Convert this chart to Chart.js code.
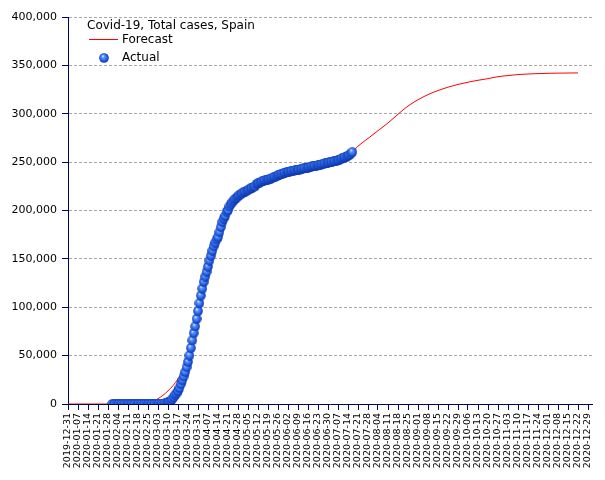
<!DOCTYPE html>
<html>
<head>
<meta charset="utf-8">
<script src="https://cdn.jsdelivr.net/npm/chart.js@4.4.1/dist/chart.umd.min.js"></script>
<style>
  html, body { margin: 0; padding: 0; background: #fff; }
  #chart { display: block; }
</style>
</head>
<body>
<canvas id="chart" width="605" height="480"></canvas>
<script>
// ── Data ──
const chartTitle = 'Covid-19, Total cases, Spain';
const seriesNames = ['Forecast', 'Actual'];

// x axis: days counted from 2019-12-31, one tick per week
const tickLabels = [
  '2019-12-31', '2020-01-07', '2020-01-14', '2020-01-21', '2020-01-28',
  '2020-02-04', '2020-02-11', '2020-02-18', '2020-02-25', '2020-03-03',
  '2020-03-10', '2020-03-17', '2020-03-24', '2020-03-31', '2020-04-07',
  '2020-04-14', '2020-04-21', '2020-04-28', '2020-05-05', '2020-05-12',
  '2020-05-19', '2020-05-26', '2020-06-02', '2020-06-09', '2020-06-16',
  '2020-06-23', '2020-06-30', '2020-07-07', '2020-07-14', '2020-07-21',
  '2020-07-28', '2020-08-04', '2020-08-11', '2020-08-18', '2020-08-25',
  '2020-09-01', '2020-09-08', '2020-09-15', '2020-09-22', '2020-09-29',
  '2020-10-06', '2020-10-13', '2020-10-20', '2020-10-27', '2020-11-03',
  '2020-11-10', '2020-11-17', '2020-11-24', '2020-12-01', '2020-12-08',
  '2020-12-15', '2020-12-22', '2020-12-29'
];
const yTicks = [0, 50000, 100000, 150000, 200000, 250000, 300000, 350000, 400000];

// Forecast (day offset, cases)
const forecastDays = [
  0, 7, 14, 21, 28, 35, 42, 49, 56, 63, 70, 77, 84, 91, 98, 105, 112, 119, 126,
  133, 140, 147, 154, 161, 168, 175, 182, 189, 196, 203, 210, 217, 224, 231, 238,
  245, 252, 259, 266, 273, 280, 287, 294, 301, 308, 315, 322, 329, 336, 343, 350, 357
];
const forecastCases = [
  0, 0, 0, 0, 0, 0, 0, 200, 1200, 5500, 13500, 26000, 46000, 96000, 142000, 176000, 202000, 217500, 224500,
  229000, 231500, 233800, 236500, 239000, 241500, 244000, 247500, 251500, 256500, 266500, 274500, 282500, 290500, 299500, 308000,
  314500, 319800, 324000, 327500, 330300, 332600, 334600, 336300, 338300, 339500, 340500, 341100, 341500, 341800, 342000, 342100, 342200
];

// Actual daily totals, starting 2020-01-31
const actualStart = '2020-01-31';
const actualJanFeb = [
  1, 1, 1, 1, 1, 1, 1, 1, 1, 2, 2, 2, 2, 2, 2, 2, 2, 2, 2, 2, 2, 2, 2, 2, 2,
  6, 13, 15, 32, 45
];
const actualMar = [
  84, 120, 165, 222, 259, 400, 500, 673, 1073, 1695, 2277, 3146, 5232, 7000, 9500,
  11000, 13500, 16500, 20500, 24500, 28500, 33000, 38000, 43500, 50000, 57786, 65719,
  73235, 80110, 87956, 95923
];
const actualApr = [
  104118, 112065, 119199, 126168, 131646, 136675, 141942, 148220, 153222, 158273,
  163027, 166831, 170099, 172541, 177644, 182816, 188068, 191726, 194416, 198674,
  200210, 204178, 206500, 208600, 210400, 211900, 213300, 214600, 215800, 216900
];
const actualMay = [
  217900, 218800, 219600, 220300, 221100, 221900, 222800, 223600, 224400, 225100,
  227400, 228000, 228700, 229500, 230200, 230700, 231300, 231600, 232000, 232600,
  233000, 233800, 234300, 234800, 235400, 236300, 236900, 237400, 237900, 238600, 239100
];
const actualJun = [
  239600, 239900, 240300, 240700, 241000, 241300, 241550, 241700, 242000, 242300,
  242700, 243200, 243500, 243600, 243900, 244300, 244700, 245300, 245600, 245900,
  246300, 246500, 246800, 247100, 247500, 247900, 248300, 248600, 248800, 249300
];
const actualJul = [
  249700, 250100, 250500, 250800, 251000, 251400, 251800, 252500, 253100, 253900,
  254600, 255200, 255800, 256600, 257500, 258900, 260300
];

/* ── helpers ── */
const DAY0 = Date.UTC(2019, 11, 31);
function dayOffset(iso) {
  const [y, m, d] = iso.split('-').map(Number);
  return Math.round((Date.UTC(y, m - 1, d) - DAY0) / 86400000);
}

const actualCases = [].concat(actualJanFeb, actualMar, actualApr, actualMay, actualJun, actualJul);
const firstDay = dayOffset(actualStart);
const actualPoints = actualCases.map((v, i) => ({ x: firstDay + i, y: v }));
const forecastPoints = forecastDays.map((d, i) => ({ x: d, y: forecastCases[i] }));
const tickDays = tickLabels.map(dayOffset);

const AXIS = '#000066';
const FONT = 'DejaVu Sans';

// shaded blue ball used for the actual points
function makeBall(size) {
  const c = document.createElement('canvas');
  c.width = c.height = size;
  const g = c.getContext('2d');
  const r = size / 2;
  const grad = g.createRadialGradient(r * 0.75, r * 0.6, 0.3, r, r, r);
  grad.addColorStop(0, '#e4eeff');
  grad.addColorStop(0.25, '#5d95ff');
  grad.addColorStop(0.65, '#2463ea');
  grad.addColorStop(1, '#0b2a94');
  g.fillStyle = grad;
  g.beginPath();
  g.arc(r, r, r - 0.2, 0, Math.PI * 2);
  g.fill();
  return c;
}
const ball = makeBall(10);

/* ── legend drawn inside the plot ── */
const innerLegend = {
  id: 'innerLegend',
  afterDraw(chart) {
    const ctx = chart.ctx;
    ctx.save();
    ctx.fillStyle = '#000';
    ctx.textBaseline = 'middle';
    ctx.font = '12px ' + FONT;
    ctx.fillText(chartTitle, 87, 26);
    ctx.strokeStyle = 'red';
    ctx.lineWidth = 1;
    ctx.beginPath();
    ctx.moveTo(89, 39.5);
    ctx.lineTo(118, 39.5);
    ctx.stroke();
    ctx.fillText(seriesNames[0], 122, 40);
    ctx.drawImage(ball, 99, 53);
    ctx.fillText(seriesNames[1], 122, 58);
    ctx.restore();
  }
};

new Chart(document.getElementById('chart'), {
  type: 'line',
  data: {
    datasets: [
      {
        label: seriesNames[1],
        data: actualPoints,
        showLine: false,
        pointStyle: ball,
        pointRadius: 5,
        pointHoverRadius: 5,
        order: 1
      },
      {
        label: seriesNames[0],
        data: forecastPoints,
        borderColor: 'red',
        borderWidth: 1,
        pointRadius: 0,
        cubicInterpolationMode: 'monotone',
        fill: false,
        order: 2
      }
    ]
  },
  options: {
    responsive: false,
    animation: false,
    events: [],
    layout: { padding: { top: 17, right: 13, left: 0, bottom: 0 } },
    plugins: {
      legend: { display: false },
      tooltip: { enabled: false }
    },
    scales: {
      x: {
        type: 'linear',
        min: 0,
        max: 366.8,
        afterBuildTicks(scale) {
          scale.ticks = tickDays.map(v => ({ value: v }));
        },
        afterFit(scale) { scale.height = 76; },
        grid: {
          drawOnChartArea: false,
          drawTicks: true,
          tickLength: 6,
          tickColor: AXIS
        },
        border: { display: true, color: AXIS, width: 1 },
        ticks: {
          autoSkip: false,
          maxRotation: 90,
          minRotation: 90,
          padding: 3,
          color: '#000',
          font: { family: FONT, size: 9.5 },
          callback: (value, index) => tickLabels[index]
        }
      },
      y: {
        min: 0,
        max: 400000,
        afterBuildTicks(scale) {
          scale.ticks = yTicks.map(v => ({ value: v }));
        },
        afterFit(scale) { scale.width = 68; },
        grid: {
          color: c => (c.tick && c.tick.value === 0 ? 'rgba(0,0,0,0)' : '#a8a8a8'),
          tickColor: AXIS,
          tickLength: 6,
          lineWidth: 1
        },
        border: { display: true, color: AXIS, width: 1, dash: [3, 2] },
        ticks: {
          padding: 5,
          color: '#000',
          font: { family: FONT, size: 11 },
          callback: v => v.toLocaleString('en-US')
        }
      }
    }
  },
  plugins: [innerLegend]
});
</script>
</body>
</html>
